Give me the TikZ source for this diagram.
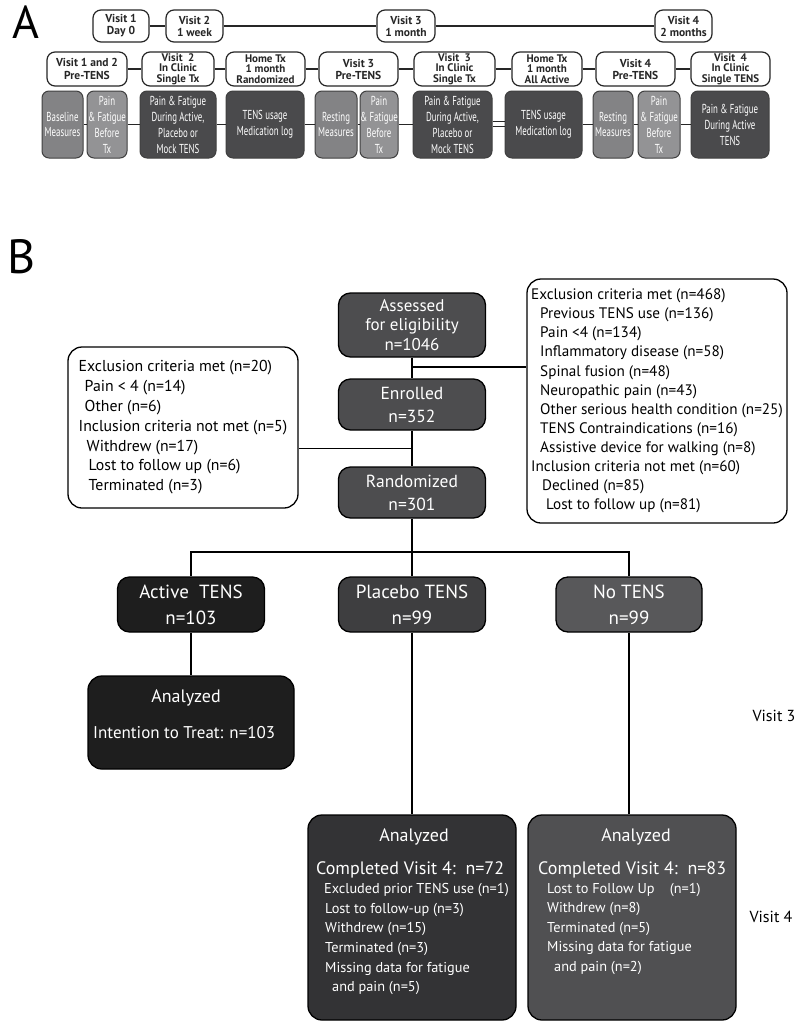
\documentclass[tikz,border=0pt]{standalone}
\usepackage{fontspec}
\setmainfont{PT Sans}
\newfontfamily\condfont[FakeStretch=0.68]{PT Sans}
\definecolor{lightA}{HTML}{838385}
\definecolor{lightB}{HTML}{939395}
\definecolor{darkA}{HTML}{4A4A4C}
\definecolor{boxgray}{HTML}{4D4D4F}
\definecolor{activeblk}{HTML}{1E1E1E}
\definecolor{placebogray}{HTML}{3E3E40}
\definecolor{notensgray}{HTML}{58585A}
\definecolor{placeboan}{HTML}{333335}
\definecolor{notensan}{HTML}{505052}
\begin{document}
\begin{tikzpicture}[x=1pt,y=-1pt,
  visitbox/.style={draw=black!85, line width=1.2pt, fill=white, rounded corners=8pt, inner sep=0pt,
    align=center, text=black!85, font=\bfseries\fontsize{11.5}{12}\selectfont, minimum height=32pt},
  phasebox/.style={visitbox, minimum height=34pt, font=\bfseries\fontsize{11}{10.3}\selectfont},
  measbox/.style={draw=black!75, line width=1pt, rounded corners=7pt, inner sep=0pt, align=center,
    text=white, font=\condfont\fontsize{13}{16}\selectfont, minimum height=67pt},
  alink/.style={line width=1.4pt, draw=black!85},
  toplink/.style={line width=2.2pt, draw=black!85},
  darkbox/.style={draw=black, line width=1.3pt, rounded corners=12pt, inner sep=0pt, align=center,
    text=white, font=\fontsize{17}{19.8}\selectfont},
  critbox/.style={draw=black, line width=1.3pt, fill=white, rounded corners=14pt, inner sep=0pt,
    align=left, font=\fontsize{15.8}{19.8}\selectfont},
  blink/.style={line width=1.8pt, draw=black},
  wtext/.style={text=white, inner sep=0pt},
  sidelabel/.style={inner sep=0pt, font=\fontsize{16}{19}\selectfont}
]
\useasboundingbox[fill=white] (0,0) rectangle (800,1031);

% ---------------- Panel A ----------------
\node[inner sep=0pt, font=\fontsize{46}{46}\selectfont] (labA) at (26,22) {A};

\node[visitbox, minimum width=56pt] (v1) at (121,26) {Visit 1\\Day 0};
\node[visitbox, minimum width=57pt] (v2) at (194.5,26) {Visit 2\\1 week};
\node[visitbox, minimum width=58pt] (v3) at (406,26) {Visit 3\\1 month};
\node[visitbox, minimum width=57pt] (v4) at (683.5,26) {Visit 4\\2 months};
\draw[toplink] (v1) -- (v2);
\draw[toplink] (v2) -- (v3);
\draw[toplink] (v3) -- (v4);

\node[phasebox, minimum width=80pt, font=\bfseries\fontsize{11.5}{13}\selectfont] (r1) at (87,69) {Visit 1 and 2\\Pre-TENS};
\node[phasebox, minimum width=72pt] (r2) at (178,69) {Visit\ \ 2\\In Clinic\\Single Tx};
\node[phasebox, minimum width=79pt] (r3) at (265.5,69) {Home Tx\\1 month\\Randomized};
\node[phasebox, minimum width=79pt, font=\bfseries\fontsize{11.5}{12}\selectfont] (r4) at (358.5,69) {Visit 3\\Pre-TENS};
\node[phasebox, minimum width=81pt] (r5) at (454.5,69) {Visit\ \ 3\\In Clinic\\Single Tx};
\node[phasebox, minimum width=70pt] (r6) at (547,69) {Home Tx\\1 month\\All Active};
\node[phasebox, minimum width=79pt, font=\bfseries\fontsize{11.5}{12}\selectfont] (r7) at (635.5,69) {Visit 4\\Pre-TENS};
\node[phasebox, minimum width=79pt] (r8) at (730.5,69) {Visit\ \ 4\\In Clinic\\Single TENS};
\foreach \a/\b in {r1/r2,r2/r3,r3/r4,r4/r5,r5/r6,r6/r7,r7/r8} \draw[alink] (\a) -- (\b);

\node[measbox, fill=lightA, minimum width=41pt, font=\condfont\fontsize{13}{15}\selectfont] (s1) at (62.5,124.5) {Baseline\\Measures};
\node[measbox, fill=lightB, minimum width=40pt] (s2) at (107,124.5) {Pain\\\& Fatigue\\Before\\Tx};
\node[measbox, fill=darkA, minimum width=76pt] (s3) at (178,124.5) {Pain \& Fatigue\\During Active,\\Placebo or\\Mock TENS};
\node[measbox, fill=darkA, minimum width=78pt] (s4) at (265,124.5) {TENS usage\\Medication log};
\node[measbox, fill=lightA, minimum width=42pt, font=\condfont\fontsize{13}{15}\selectfont] (s5) at (336,124.5) {Resting\\Measures};
\node[measbox, fill=lightB, minimum width=38pt] (s6) at (379,124.5) {Pain\\\& Fatigue\\Before\\Tx};
\node[measbox, fill=darkA, minimum width=79pt] (s7) at (452.5,124.5) {Pain \& Fatigue\\During Active,\\Placebo or\\Mock TENS};
\node[measbox, fill=darkA, minimum width=77pt] (s8) at (543.5,124.5) {TENS usage\\Medication log};
\node[measbox, fill=lightA, minimum width=40pt, font=\condfont\fontsize{13}{15}\selectfont] (s9) at (613,124.5) {Resting\\Measures};
\node[measbox, fill=lightB, minimum width=42pt] (s10) at (659,124.5) {Pain\\\& Fatigue\\Before\\Tx};
\node[measbox, fill=darkA, minimum width=78pt] (s11) at (730,124.5) {Pain \& Fatigue\\During Active\\TENS};
\foreach \a/\b in {s1/s2,s2/s3,s3/s4,s4/s5,s5/s6,s6/s7,s8/s9,s9/s10,s10/s11} \draw[alink] (\a) -- (\b);
\draw[alink] ([yshift=3pt]s7.east) -- ([yshift=3pt]s8.west);
\draw[alink] ([yshift=-2pt]s7.east) -- ([yshift=-2pt]s8.west);

% ---------------- Panel B ----------------
\node[inner sep=0pt, font=\fontsize{48}{48}\selectfont] (labB) at (22,257) {B};

\node[darkbox, fill=boxgray, minimum width=147pt, minimum height=64pt] (assess) at (412,325) {Assessed\\for eligibility\\n=1046};
\node[darkbox, fill=boxgray, minimum width=147pt, minimum height=51pt, font=\fontsize{17.5}{23}\selectfont] (enroll) at (412,404.5) {Enrolled\\n=352};
\node[darkbox, fill=boxgray, minimum width=147pt, minimum height=51pt, font=\fontsize{17.5}{23}\selectfont] (rand) at (412,492.5) {Randomized\\n=301};

\node[critbox, minimum width=230pt, minimum height=161pt] (exclL) at (183,427.5)
 {Exclusion criteria met (n=20)\\
  \hspace*{6pt}Pain {<} 4 (n=14)\\
  \hspace*{6pt}Other (n=6)\\
  Inclusion criteria not met (n=5)\\
  \hspace*{8pt}Withdrew (n=17)\\
  \hspace*{10pt}Lost to follow up (n=6)\\
  \hspace*{10pt}Terminated (n=3)};

\node[critbox, minimum width=260pt, minimum height=244pt, font=\fontsize{15.2}{19.1}\selectfont] (exclR) at (657,401)
 {Exclusion criteria met (n=468)\\
  \hspace*{9pt}Previous TENS use (n=136)\\
  \hspace*{9pt}Pain {<}4 (n=134)\\
  \hspace*{9pt}Inflammatory disease (n=58)\\
  \hspace*{9pt}Spinal fusion (n=48)\\
  \hspace*{9pt}Neuropathic pain (n=43)\\
  \hspace*{9pt}Other serious health condition (n=25)\\
  \hspace*{9pt}TENS Contraindications (n=16)\\
  \hspace*{9pt}Assistive device for walking (n=8)\\
  Inclusion criteria not met (n=60)\\
  \hspace*{11pt}Declined (n=85)\\
  \hspace*{15pt}Lost to follow up (n=81)};

\node[darkbox, fill=activeblk, minimum width=147pt, minimum height=55pt, font=\fontsize{19}{26}\selectfont] (active) at (191,604.5) {Active\ \ TENS\\n=103};
\node[darkbox, fill=placebogray, minimum width=147pt, minimum height=55pt, font=\fontsize{19}{26}\selectfont] (placebo) at (412,604.5) {Placebo TENS\\n=99};
\node[darkbox, fill=notensgray, minimum width=146pt, minimum height=55pt, font=\fontsize{19}{26}\selectfont] (notens) at (629,604.5) {No TENS\\n=99};

\node[darkbox, fill=activeblk, rounded corners=14pt, minimum width=206pt, minimum height=93pt] (activeA) at (191,722.5) {};
\node[wtext, font=\fontsize{18}{19}\selectfont] (activeAh) at (186,698) {Analyzed};
\node[wtext, font=\fontsize{17}{19}\selectfont, anchor=west] (activeAt) at (93,733) {Intention to Treat: n=103};

\node[darkbox, fill=placeboan, rounded corners=14pt, minimum width=208pt, minimum height=205pt] (placeboA) at (412,917.5) {};
\node[wtext, font=\fontsize{18}{19}\selectfont] (placeboAh) at (414,837) {Analyzed};
\node[wtext, anchor=north west, align=left, font=\fontsize{14.3}{19.6}\selectfont] (placeboAt) at (316,861)
 {{\fontsize{18}{19.6}\selectfont Completed Visit 4:\ \ n=72}\\
  \hspace*{8pt}Excluded prior TENS use (n=1)\\
  \hspace*{9pt}Lost to follow-up (n=3)\\
  \hspace*{9pt}Withdrew (n=15)\\
  \hspace*{9pt}Terminated (n=3)\\
  \hspace*{9pt}Missing data for fatigue\\
  \hspace*{16pt}and pain (n=5)};

\node[darkbox, fill=notensan, rounded corners=14pt, minimum width=208pt, minimum height=205pt] (notensA) at (632,917.5) {};
\node[wtext, font=\fontsize{18}{19}\selectfont] (notensAh) at (636,837) {Analyzed};
\node[wtext, anchor=north west, align=left, font=\fontsize{14.3}{19.4}\selectfont] (notensAt) at (538,861)
 {{\fontsize{18}{19.4}\selectfont Completed Visit 4:\ \ n=83}\\
  \hspace*{9pt}Lost to Follow Up\ \ \ \ (n=1)\\
  \hspace*{9pt}Withdrew (n=8)\\
  \hspace*{9pt}Terminated (n=5)\\
  \hspace*{9pt}Missing data for fatigue\\
  \hspace*{16pt}and pain (n=2)};

\node[sidelabel] (vis3) at (774,716) {Visit 3};
\node[sidelabel] (vis4) at (771,917) {Visit 4};

% connectors
\draw[blink] (assess) -- (enroll);
\draw[blink] (enroll) -- (rand);
\draw[blink] (rand) -- (placebo);
\path (assess.south) -- (enroll.north) coordinate[pos=0.45] (b1);
\draw[blink] (b1) -- (b1 -| exclR.west);
\path (enroll.south) -- (rand.north) coordinate[pos=0.5] (b2);
\draw[blink] (b2) -- (b2 -| exclL.east);
\draw[blink] (active.north) -- ++(0,-24) -| (notens.north);
\draw[blink] (active) -- (activeA);
\draw[blink] (placebo) -- (placeboA);
\draw[blink] (notens.south) -- (notens.south |- notensA.north);
\end{tikzpicture}
\end{document}
